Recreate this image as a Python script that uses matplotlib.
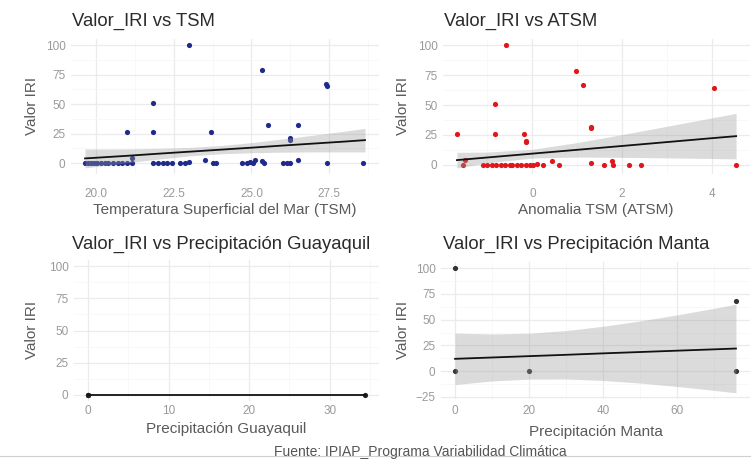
import matplotlib
matplotlib.use("Agg")
import matplotlib.pyplot as plt
from matplotlib.ticker import MultipleLocator

plt.rcParams['font.family'] = ['Liberation Sans', 'DejaVu Sans']

# --- Valor_IRI vs TSM ---
tsm = [23.0, 25.33, 27.39, 27.42, 21.83, 21.0, 21.83, 23.71, 25.54, 26.51, 26.23, 26.25,
       19.65, 19.75, 19.85, 19.95, 20.05, 20.15, 20.3, 20.4, 20.55, 20.7, 20.85, 21.0, 21.15, 21.17,
       21.85, 22.0, 22.15, 22.3, 22.45, 22.7, 22.85, 23.0,
       23.5, 23.75, 23.85, 24.7, 24.85, 24.95, 25.05, 25.1, 25.35, 25.4,
       26.0, 26.15, 26.25, 26.5, 27.42, 28.6]
iri_tsm = [100, 79, 67, 65, 51, 26, 26, 26, 32, 32, 20, 21,
           0, 0, 0, 0, 0, 0, 0, 0, 0, 0, 0, 0, 0, 4,
           0, 0, 0, 0, 0, 0, 0, 1,
           3, 0, 0, 0, 0, 1, 0, 3, 2, 0,
           0, 0, 0, 3, 0, 0]
fit_tsm_x = [19.65, 21, 22, 23, 24, 25, 26, 27, 28, 28.65]
fit_tsm_y = [4.0, 6.2, 8.0, 9.7, 11.4, 13.1, 14.9, 16.6, 18.3, 19.5]
fit_tsm_lo = [-4.0, 0.3, 3.4, 6.1, 7.9, 8.8, 9.3, 9.5, 9.5, 9.5]
fit_tsm_hi = [12.0, 12.1, 12.6, 13.3, 14.9, 17.4, 20.5, 23.7, 27.1, 29.5]

# --- Valor_IRI vs ATSM ---
atsm = [-0.58, 0.97, 1.13, 4.05, -0.84, -1.68, -0.84, -0.19, -0.15, -0.13, 1.31, 1.30,
        -1.54, -1.50, -1.1, -1.0, -0.9, -0.8, -0.7, -0.6, -0.5, -0.45, -0.35, -0.25, -0.15,
        -0.05, 0.02, 0.1, 0.23, 0.43, 0.59, 1.31, 1.6, 1.77, 1.80, 2.15, 2.42, 4.54]
iri_atsm = [100, 78, 67, 64, 51, 26, 26, 26, 19, 20, 31, 32,
            0, 4, 0, 0, 0, 0, 0, 0, 0, 0, 0, 0, 0,
            0, 0, 1, 0, 3, 0, 2, 0, 3, 0, 0, 0, 0]
fit_atsm_x = [-1.68, -1, 0, 1, 2, 3, 4, 4.54]
fit_atsm_y = [4.0, 6.2, 9.4, 12.6, 15.8, 19.05, 22.3, 24.0]
fit_atsm_lo = [-2.5, 1.7, 5.75, 6.55, 6.3, 5.85, 5.35, 5.0]
fit_atsm_hi = [10.5, 10.7, 13.05, 18.65, 25.3, 32.25, 39.25, 43.0]

# --- Valor_IRI vs Precipitacion Guayaquil ---
prec_gye = [0, 0, 0, 34.4]
iri_gye = [0, 0, 0, 0]
fit_gye_x = [0, 34.4]
fit_gye_y = [0, 0]

# --- Valor_IRI vs Precipitacion Manta ---
prec_manta = [0, 0, 20, 76, 76]
iri_manta = [100, 0, 0, 68, 0]
fit_manta_x = [0, 10, 20, 30, 40, 50, 60, 70, 76]
fit_manta_y = [12.0, 13.3, 14.6, 15.9, 17.3, 18.6, 19.9, 21.2, 22.0]
fit_manta_lo = [-13.0, -9.5, -7.7, -7.6, -9.0, -11.5, -14.8, -18.6, -21.0]
fit_manta_hi = [37.0, 36.1, 36.9, 39.4, 43.6, 48.7, 54.6, 61.0, 65.0]

W, H = 751, 463


def box(l, t, r, b):
    return [l / W, 1 - b / H, (r - l) / W, (b - t) / H]


def style(ax, xmaj, ymaj, xlim, ylim, xpad):
    ax.set_xlim(*xlim)
    ax.set_ylim(*ylim)
    ax.xaxis.set_major_locator(MultipleLocator(xmaj))
    ax.xaxis.set_minor_locator(MultipleLocator(xmaj / 2))
    ax.yaxis.set_major_locator(MultipleLocator(ymaj))
    ax.yaxis.set_minor_locator(MultipleLocator(ymaj / 2))
    ax.grid(which='major', color='#ebebeb', lw=0.9)
    ax.grid(which='minor', color='#f5f5f5', lw=0.5)
    ax.set_axisbelow(True)
    for s in ax.spines.values():
        s.set_visible(False)
    ax.tick_params(which='both', length=0, labelsize=8.5, labelcolor='#9a9a9a')
    ax.tick_params(axis='x', pad=xpad)
    ax.tick_params(axis='y', pad=4)


fig = plt.figure(figsize=(W / 100, H / 100), dpi=100)

ax1 = fig.add_axes(box(71, 39, 379, 174))
ax1.scatter(tsm, iri_tsm, s=14, color='#1f2a8a', zorder=2, linewidths=0)
ax1.fill_between(fit_tsm_x, fit_tsm_lo, fit_tsm_hi, color='#999999', alpha=0.35, lw=0, zorder=3)
ax1.plot(fit_tsm_x, fit_tsm_y, color='#111111', lw=1.3, zorder=4)
style(ax1, 2.5, 25, (19.2, 29.1), (-9.2, 105.2), 10)
ax1.xaxis.set_major_formatter(lambda v, p: f"{v:.1f}")

ax2 = fig.add_axes(box(443, 39, 750, 174))
ax2.scatter(atsm, iri_atsm, s=14, color='#e0161b', zorder=2, linewidths=0)
ax2.fill_between(fit_atsm_x, fit_atsm_lo, fit_atsm_hi, color='#999999', alpha=0.35, lw=0, zorder=3)
ax2.plot(fit_atsm_x, fit_atsm_y, color='#111111', lw=1.3, zorder=4)
style(ax2, 2, 25, (-1.99, 4.85), (-7.6, 105.1), 10)

ax3 = fig.add_axes(box(74, 260, 379, 401))
ax3.scatter(prec_gye, iri_gye, s=14, color='#222222', zorder=2, linewidths=0)
ax3.plot(fit_gye_x, fit_gye_y, color='#111111', lw=1.3, zorder=4)
style(ax3, 10, 25, (-1.72, 36.1), (-5, 105), 3)

ax4 = fig.add_axes(box(441, 262, 750, 399))
ax4.scatter(prec_manta, iri_manta, s=14, color='#333333', zorder=2, linewidths=0)
ax4.fill_between(fit_manta_x, fit_manta_lo, fit_manta_hi, color='#999999', alpha=0.35, lw=0, zorder=3)
ax4.plot(fit_manta_x, fit_manta_y, color='#111111', lw=1.3, zorder=4)
style(ax4, 20, 25, (-3.8, 79.8), (-27, 106), 4)

# titles and axis titles, placed in figure pixels
def ftext(x, y, s, **kw):
    fig.text(x / W, 1 - y / H, s, **kw)

tkw = dict(fontsize=13.3, color='#2b2b2b', ha='left', va='baseline')
ftext(72, 26, "Valor_IRI vs TSM", **tkw)
ftext(444, 26, "Valor_IRI vs ATSM", **tkw)
ftext(72, 249, "Valor_IRI vs Precipitación Guayaquil", **tkw)
ftext(443, 249, "Valor_IRI vs Precipitación Manta", **tkw)

lkw = dict(fontsize=11, color='#5a5a5a', ha='center', va='center')
ftext(225, 210, "Temperatura Superficial del Mar (TSM)", **lkw)
ftext(596, 210, "Anomalia TSM (ATSM)", **lkw)
ftext(226, 429, "Precipitación Guayaquil", **lkw)
ftext(596, 432, "Precipitación Manta", **lkw)
ftext(32, 106, "Valor IRI", rotation=90, **lkw)
ftext(403, 106, "Valor IRI", rotation=90, **lkw)
ftext(32, 330, "Valor IRI", rotation=90, **lkw)
ftext(403, 330, "Valor IRI", rotation=90, **lkw)

# caption with rule
fig.add_artist(plt.Line2D([0, 1], [1 - 456 / H, 1 - 456 / H], color='#cfcfcf', lw=0.8))
ftext(420, 452, "Fuente: IPIAP_Programa Variabilidad Climática",
      fontsize=10, color='#555555', ha='center', va='center')

fig.savefig("out.png", dpi=100)
